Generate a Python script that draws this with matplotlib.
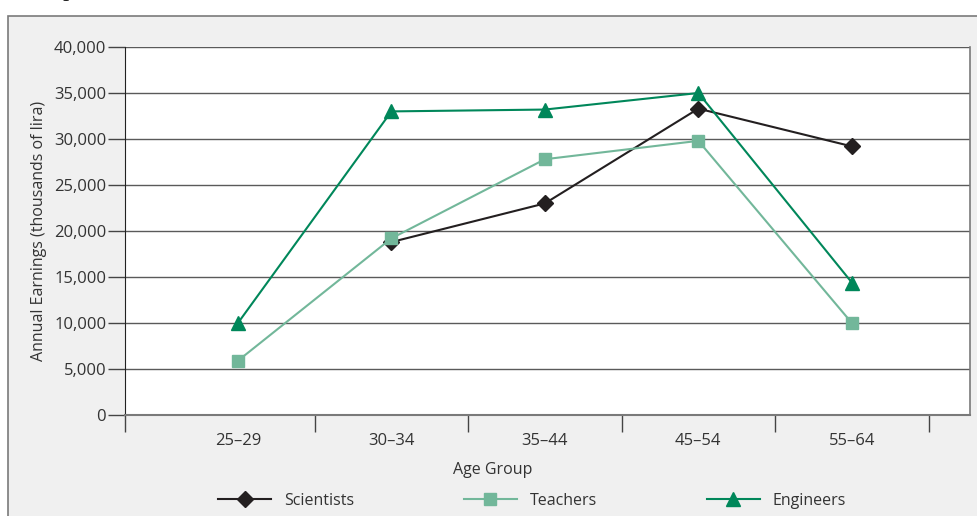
import matplotlib
matplotlib.use("Agg")
import matplotlib.pyplot as plt
from matplotlib.patches import Rectangle
import numpy as np

AGE_GROUPS = ["25–29", "30–34", "35–44", "45–54", "55–64"]
SCIENTISTS = [np.nan, 18800, 23000, 33300, 29200]
TEACHERS = [5900, 19200, 27800, 29800, 10000]
ENGINEERS = [10000, 33000, 33200, 35000, 14400]
Y_TICKS = [0, 5000, 10000, 15000, 20000, 25000, 30000, 35000, 40000]

plt.rcParams["font.family"] = ["Open Sans", "DejaVu Sans"]

fig = plt.figure(figsize=(9.78, 5.16), dpi=100)
fig.patch.set_facecolor("white")

# grey frame behind the chart
frame = Rectangle((8 / 978, -0.1), 1.2, 0.1 + 500 / 516, transform=fig.transFigure,
                  facecolor="#f0f0f0", edgecolor="#7a7a7a", linewidth=1.2, zorder=-10)
fig.patches.append(frame)
# cut-off caption glyph at the very top
fig.text(62 / 978, 1 + 3 / 516, "p", family="DejaVu Serif", fontsize=14,
         va="baseline", ha="left", color="#222222")

ax = fig.add_axes([125 / 978, 101 / 516, 845 / 978, 368 / 516])
ax.set_zorder(1)
ax.set_facecolor("white")

x = np.arange(len(AGE_GROUPS))
ax.plot(x, SCIENTISTS, color="#231f20", lw=1.5, marker="D", ms=8.5, zorder=3, label="Scientists")
ax.plot(x, TEACHERS, color="#72b79a", lw=1.5, marker="s", ms=8, zorder=4, label="Teachers")
ax.plot(x, ENGINEERS, color="#00875a", lw=1.5, marker="^", ms=10, zorder=5, label="Engineers")

left, right = -0.736, 4.77
ax.set_xlim(left, right)
ax.set_ylim(0, 40000)

ax.set_yticks(Y_TICKS)
ax.set_yticklabels([f"{v:,}" for v in Y_TICKS])
ax.yaxis.grid(True, color="#5a5a5a", lw=1.0)
ax.set_axisbelow(True)

ax.set_xticks(x)
ax.set_xticklabels(AGE_GROUPS)
ax.set_xticks([left] + list(np.arange(0.5, 5, 1.0)), minor=True)
ax.tick_params(axis="x", which="major", length=0, pad=13, labelsize=12, labelcolor="#333333")
ax.tick_params(axis="x", which="minor", length=12, width=1, color="#444444", direction="out")
ax.tick_params(axis="y", length=12, width=1, color="#444444", pad=1.5, labelsize=12, labelcolor="#333333")

ax.spines["top"].set_visible(False)
ax.spines["left"].set_color("#222222")
ax.spines["bottom"].set_color("#7a7a7a")
ax.spines["bottom"].set_linewidth(1.5)
ax.spines["right"].set_color("#7a7a7a")
ax.spines["right"].set_linewidth(1.2)

ax.set_xlabel("Age Group", fontsize=11.5, color="#333333")
ax.xaxis.set_label_coords((493 - 125) / 845, -0.128)
ax.set_ylabel("Annual Earnings (thousands of lira)", fontsize=11.5, color="#333333", labelpad=5)

fig.legend(loc="center", bbox_to_anchor=(532 / 978, 15 / 516), ncol=3, frameon=False,
           fontsize=11.5, handlelength=3.3, columnspacing=6.9, handletextpad=0.8,
           labelcolor="#333333")

fig.savefig("out.png", dpi=100)
